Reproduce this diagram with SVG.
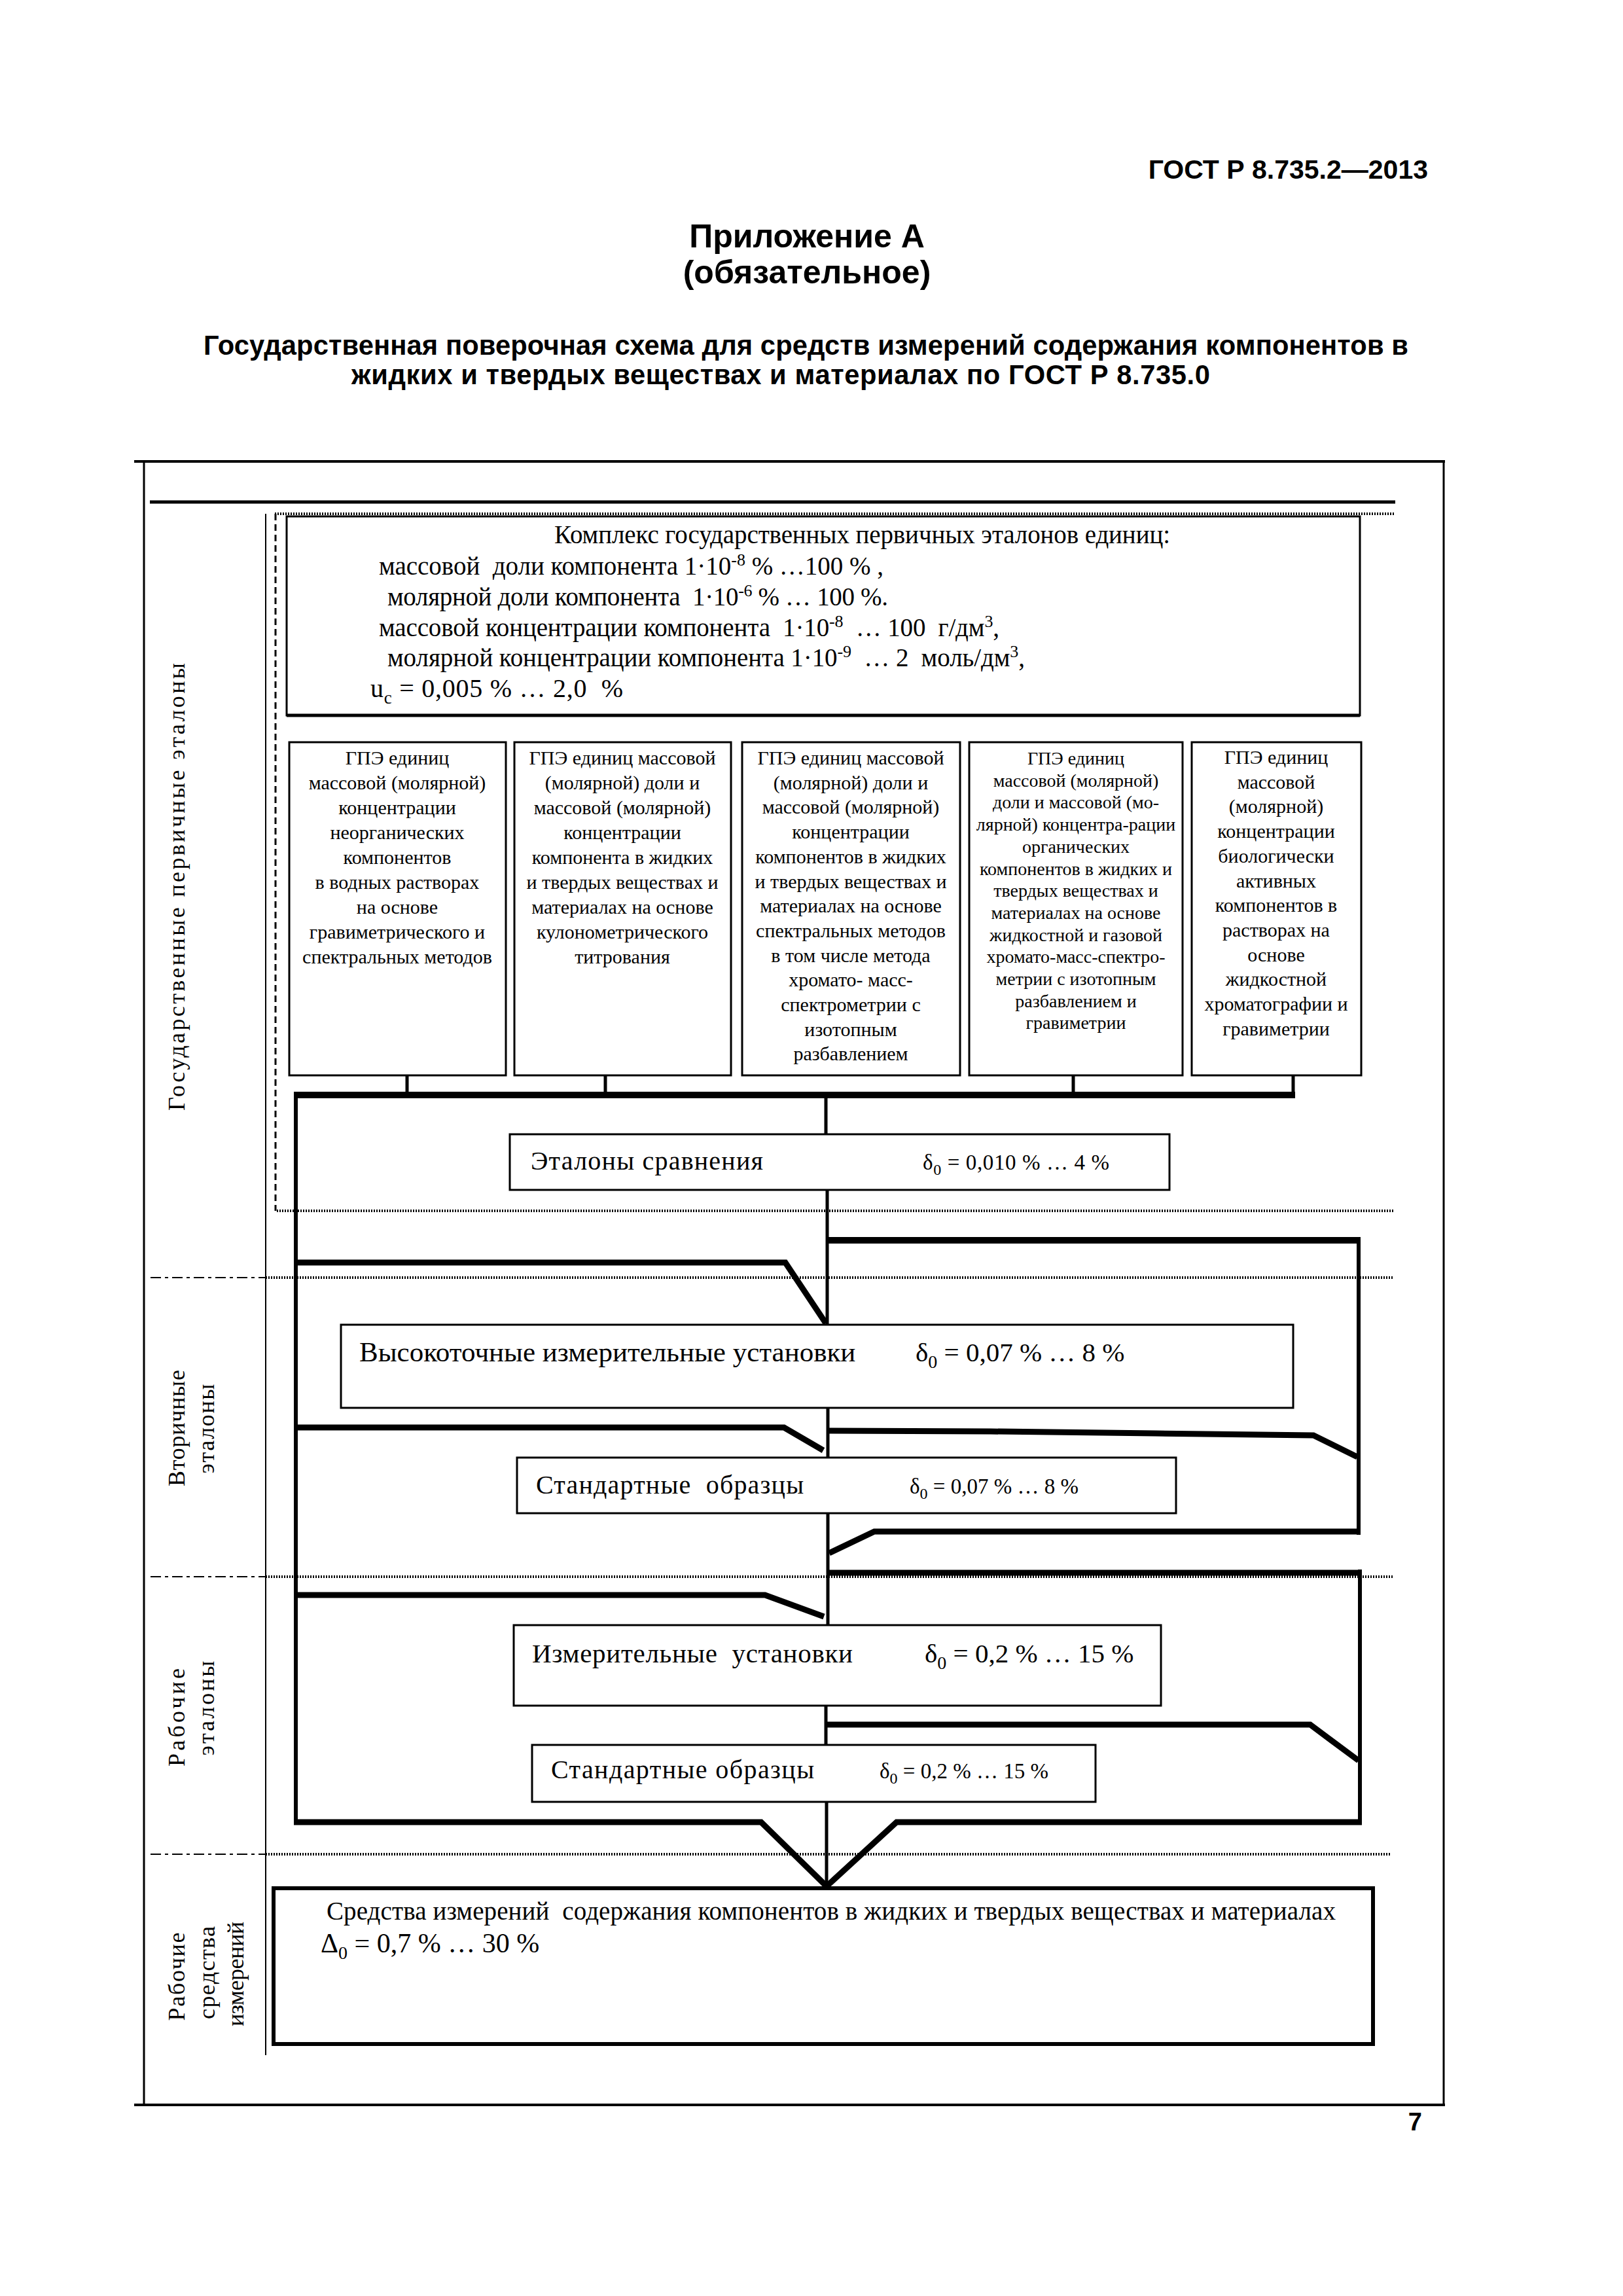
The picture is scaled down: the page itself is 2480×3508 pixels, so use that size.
<svg xmlns="http://www.w3.org/2000/svg" width="2480" height="3508" viewBox="0 0 2480 3508">
<style>
.hdr{font-family:"Liberation Sans",Arial,sans-serif;font-weight:bold;fill:#000}
.t{font-family:"Liberation Serif","Times New Roman",serif;fill:#000}
.g{font-size:30px;text-anchor:middle}
.g4{font-size:28px;text-anchor:middle}
.lbl{font-size:36px;text-anchor:middle}
.box{fill:#fff;stroke:#000;stroke-width:3}
.boxb{fill:#fff;stroke:#000;stroke-width:6}
.ln{fill:none;stroke:#000}
.thick{fill:none;stroke:#000;stroke-width:9;stroke-linejoin:miter;stroke-linecap:butt}
.vert{fill:none;stroke:#000;stroke-width:6}
.mid{fill:none;stroke:#000;stroke-width:5}
.stub{fill:none;stroke:#000;stroke-width:5}
.dot{fill:none;stroke:#000;stroke-width:4;stroke-dasharray:2 2}
.dash{fill:none;stroke:#000;stroke-width:3;stroke-dasharray:10 6}
.dashdot{fill:none;stroke:#000;stroke-width:2;stroke-dasharray:16 6 5 6}
.thin{fill:none;stroke:#000;stroke-width:2}
</style>
<rect width="2480" height="3508" fill="#fff"/>

<g id="header">
<text class="hdr" x="2182" y="273" font-size="41" text-anchor="end">ГОСТ Р 8.735.2—2013</text>
<text class="hdr" x="1233" y="378" font-size="50" text-anchor="middle">Приложение А</text>
<text class="hdr" x="1233" y="433" font-size="50" text-anchor="middle">(обязательное)</text>
<text class="hdr" x="311" y="542" font-size="41.7" textLength="1841">Государственная поверочная схема для средств измерений содержания компонентов в</text>
<text class="hdr" x="537" y="587" font-size="41.7" textLength="1312">жидких и твердых веществах и материалах по ГОСТ Р 8.735.0</text>
<text class="hdr" x="2173" y="3255" font-size="38" text-anchor="end">7</text>
</g>

<g id="frame">
<line class="ln" x1="205" y1="705" x2="2208" y2="705" stroke-width="4"/>
<line class="ln" x1="220" y1="705" x2="220" y2="3216" stroke-width="3"/>
<line class="ln" x1="2206" y1="705" x2="2206" y2="3216" stroke-width="3"/>
<line class="ln" x1="205" y1="3216" x2="2208" y2="3216" stroke-width="4"/>
<line class="ln" x1="229" y1="767" x2="2132" y2="767" stroke-width="5"/>
<line class="thin" x1="406" y1="785" x2="406" y2="3140"/>
<line class="dashdot" x1="230" y1="1952" x2="406" y2="1952"/>
<line class="dot" x1="406" y1="1952" x2="2128" y2="1952" stroke-width="3"/>
<line class="dashdot" x1="230" y1="2409" x2="406" y2="2409"/>
<line class="dot" x1="406" y1="2409" x2="2128" y2="2409" stroke-width="3"/>
<line class="dashdot" x1="230" y1="2833" x2="406" y2="2833"/>
<line class="dot" x1="406" y1="2833" x2="2124" y2="2833" stroke-width="3"/>
<line class="dot" x1="420" y1="785" x2="2132" y2="785"/>
<line class="dot" x1="423" y1="1850" x2="2131" y2="1850"/>
<line class="dash" x1="421" y1="785" x2="421" y2="1850"/>
</g>

<g id="labels">
<text class="t lbl" transform="translate(282,1355) rotate(-90)" textLength="684">Государственные первичные эталоны</text>
<text class="t lbl" transform="translate(282,2182) rotate(-90)" textLength="178">Вторичные</text>
<text class="t lbl" transform="translate(327,2183) rotate(-90)" textLength="137">эталоны</text>
<text class="t lbl" transform="translate(282,2624) rotate(-90)" textLength="150">Рабочие</text>
<text class="t lbl" transform="translate(327,2610) rotate(-90)" textLength="145">эталоны</text>
<text class="t lbl" transform="translate(282,3020) rotate(-90)" textLength="135">Рабочие</text>
<text class="t lbl" transform="translate(328,3014) rotate(-90)" textLength="142">средства</text>
<text class="t lbl" transform="translate(372,3016) rotate(-90)" textLength="160">измерений</text>
</g>

<g id="connectors">
<line class="stub" x1="622" y1="1643" x2="622" y2="1670"/>
<line class="stub" x1="925" y1="1643" x2="925" y2="1670"/>
<line class="stub" x1="1640" y1="1643" x2="1640" y2="1670"/>
<line class="stub" x1="1976" y1="1643" x2="1976" y2="1670"/>
<line class="ln" x1="449" y1="1673" x2="1979" y2="1673" stroke-width="10"/>
<line class="vert" x1="452" y1="1668" x2="452" y2="2788"/>
<line class="mid" x1="1262" y1="1673" x2="1262" y2="1733"/>
<line class="mid" x1="1264" y1="1818" x2="1264" y2="2024"/>
<line class="ln" x1="1264" y1="1895" x2="2079" y2="1895" stroke-width="10"/>
<line class="vert" x1="2076" y1="1890" x2="2076" y2="2345"/>
<polyline class="thick" points="452,1929 1200,1929 1262,2022"/>
<line class="mid" x1="1265" y1="2151" x2="1265" y2="2227"/>
<polyline class="thick" points="452,2181 1198,2181 1258,2216"/>
<polyline class="thick" points="1265,2186 1514,2187 1766,2190 2007,2193 2074,2226"/>
<line class="mid" x1="1265" y1="2312" x2="1265" y2="2483"/>
<polyline class="thick" points="2079,2340 1336,2340 1267,2373"/>
<line class="ln" x1="1265" y1="2403" x2="2081" y2="2403" stroke-width="9"/>
<line class="vert" x1="2078" y1="2398" x2="2078" y2="2788"/>
<polyline class="thick" points="452,2437 1169,2437 1259,2470"/>
<line class="mid" x1="1262" y1="2606" x2="1262" y2="2666"/>
<polyline class="thick" points="1262,2635 2002,2635 2076,2690"/>
<line class="mid" x1="1263" y1="2753" x2="1263" y2="2884"/>
<polyline class="thick" points="449,2784 1163,2784 1263,2882 1370,2784 2081,2784"/>
</g>

<g id="n_complex">
<rect class="box" x="438" y="789" width="1640" height="304"/>
<line class="ln" x1="438" y1="1093" x2="2078" y2="1093" stroke-width="5"/>
<text class="t" font-size="39" x="847" y="830" textLength="941">Комплекс государственных первичных эталонов единиц:</text>
<text class="t" font-size="39" x="579" y="878" textLength="771" xml:space="preserve">массовой  доли компонента 1·10<tspan font-size="26" dy="-14">-8</tspan><tspan dy="14"> % …100 % ,</tspan></text>
<text class="t" font-size="39" x="592" y="925" textLength="765" xml:space="preserve">молярной доли компонента  1·10<tspan font-size="26" dy="-14">-6</tspan><tspan dy="14"> % … 100 %.</tspan></text>
<text class="t" font-size="39" x="579" y="972" textLength="948" xml:space="preserve">массовой концентрации компонента  1·10<tspan font-size="26" dy="-14">-8</tspan><tspan dy="14">  … 100  г/дм</tspan><tspan font-size="26" dy="-14">3</tspan><tspan dy="14">,</tspan></text>
<text class="t" font-size="39" x="592" y="1018" textLength="974" xml:space="preserve">молярной концентрации компонента 1·10<tspan font-size="26" dy="-14">-9</tspan><tspan dy="14">  … 2  моль/дм</tspan><tspan font-size="26" dy="-14">3</tspan><tspan dy="14">,</tspan></text>
<text class="t" font-size="40" x="566" y="1065" textLength="386" xml:space="preserve">u<tspan font-size="27" dy="10">c</tspan><tspan dy="-10"> = 0,005 % … 2,0  %</tspan></text>
</g>

<g id="n_gpe1">
<rect class="box" x="442" y="1134" width="331" height="509"/>
<text class="t g" x="607" y="1168"><tspan x="607">ГПЭ единиц</tspan><tspan x="607" dy="38">массовой (молярной)</tspan><tspan x="607" dy="38">концентрации</tspan><tspan x="607" dy="38">неорганических</tspan><tspan x="607" dy="38">компонентов</tspan><tspan x="607" dy="38">в водных растворах</tspan><tspan x="607" dy="38">на основе</tspan><tspan x="607" dy="38">гравиметрического и</tspan><tspan x="607" dy="38">спектральных методов</tspan></text>
</g>

<g id="n_gpe2">
<rect class="box" x="786" y="1134" width="331" height="509"/>
<text class="t g" x="951" y="1168"><tspan x="951">ГПЭ единиц массовой</tspan><tspan x="951" dy="38">(молярной) доли и</tspan><tspan x="951" dy="38">массовой (молярной)</tspan><tspan x="951" dy="38">концентрации</tspan><tspan x="951" dy="38">компонента в жидких</tspan><tspan x="951" dy="38">и твердых веществах и</tspan><tspan x="951" dy="38">материалах на основе</tspan><tspan x="951" dy="38">кулонометрического</tspan><tspan x="951" dy="38">титрования</tspan></text>
</g>

<g id="n_gpe3">
<rect class="box" x="1134" y="1134" width="333" height="509"/>
<text class="t g" x="1300" y="1168"><tspan x="1300">ГПЭ единиц массовой</tspan><tspan x="1300" dy="37.7">(молярной) доли и</tspan><tspan x="1300" dy="37.7">массовой (молярной)</tspan><tspan x="1300" dy="37.7">концентрации</tspan><tspan x="1300" dy="37.7">компонентов в жидких</tspan><tspan x="1300" dy="37.7">и твердых веществах и</tspan><tspan x="1300" dy="37.7">материалах на основе</tspan><tspan x="1300" dy="37.7">спектральных методов</tspan><tspan x="1300" dy="37.7">в том числе метода</tspan><tspan x="1300" dy="37.7">хромато- масс-</tspan><tspan x="1300" dy="37.7">спектрометрии с</tspan><tspan x="1300" dy="37.7">изотопным</tspan><tspan x="1300" dy="37.7">разбавлением</tspan></text>
</g>

<g id="n_gpe4">
<rect class="box" x="1481" y="1134" width="326" height="509"/>
<text class="t g4" x="1644" y="1168"><tspan x="1644">ГПЭ единиц</tspan><tspan x="1644" dy="33.7">массовой (молярной)</tspan><tspan x="1644" dy="33.7">доли и массовой (мо-</tspan><tspan x="1644" dy="33.7">лярной) концентра-рации</tspan><tspan x="1644" dy="33.7">органических</tspan><tspan x="1644" dy="33.7">компонентов в жидких и</tspan><tspan x="1644" dy="33.7">твердых веществах и</tspan><tspan x="1644" dy="33.7">материалах на основе</tspan><tspan x="1644" dy="33.7">жидкостной и газовой</tspan><tspan x="1644" dy="33.7">хромато-масс-спектро-</tspan><tspan x="1644" dy="33.7">метрии с изотопным</tspan><tspan x="1644" dy="33.7">разбавлением и</tspan><tspan x="1644" dy="33.7">гравиметрии</tspan></text>
</g>

<g id="n_gpe5">
<rect class="box" x="1821" y="1134" width="259" height="509"/>
<text class="t g" x="1950" y="1167"><tspan x="1950">ГПЭ единиц</tspan><tspan x="1950" dy="37.7">массовой</tspan><tspan x="1950" dy="37.7">(молярной)</tspan><tspan x="1950" dy="37.7">концентрации</tspan><tspan x="1950" dy="37.7">биологически</tspan><tspan x="1950" dy="37.7">активных</tspan><tspan x="1950" dy="37.7">компонентов в</tspan><tspan x="1950" dy="37.7">растворах на</tspan><tspan x="1950" dy="37.7">основе</tspan><tspan x="1950" dy="37.7">жидкостной</tspan><tspan x="1950" dy="37.7">хроматографии и</tspan><tspan x="1950" dy="37.7">гравиметрии</tspan></text>
</g>

<g id="n_compare">
<rect class="box" x="779" y="1733" width="1008" height="85"/>
<text class="t" font-size="40" x="811" y="1787" textLength="355">Эталоны сравнения</text>
<text class="t" font-size="33" x="1410" y="1787" textLength="285" xml:space="preserve">δ<tspan font-size="24" dy="8">0</tspan><tspan dy="-8"> = 0,010 % … 4 %</tspan></text>
</g>

<g id="n_highprec">
<rect class="box" x="521" y="2024" width="1455" height="127"/>
<text class="t" font-size="43" x="549" y="2080">Высокоточные измерительные установки</text>
<text class="t" font-size="41" x="1399" y="2080" xml:space="preserve">δ<tspan font-size="28" dy="10">0</tspan><tspan dy="-10"> = 0,07 % … 8 %</tspan></text>
</g>

<g id="n_std2">
<rect class="box" x="790" y="2227" width="1007" height="85"/>
<text class="t" font-size="40" x="819" y="2282" textLength="409" xml:space="preserve">Стандартные  образцы</text>
<text class="t" font-size="33" x="1390" y="2282" xml:space="preserve">δ<tspan font-size="24" dy="8">0</tspan><tspan dy="-8"> = 0,07 % … 8 %</tspan></text>
</g>

<g id="n_meas">
<rect class="box" x="785" y="2483" width="989" height="123"/>
<text class="t" font-size="41" x="813" y="2540" textLength="490" xml:space="preserve">Измерительные  установки</text>
<text class="t" font-size="41" x="1413" y="2540" xml:space="preserve">δ<tspan font-size="28" dy="10">0</tspan><tspan dy="-10"> = 0,2 % … 15 %</tspan></text>
</g>

<g id="n_std3">
<rect class="box" x="813" y="2666" width="861" height="87"/>
<text class="t" font-size="40" x="842" y="2717" textLength="402">Стандартные образцы</text>
<text class="t" font-size="33" x="1344" y="2717" xml:space="preserve">δ<tspan font-size="24" dy="8">0</tspan><tspan dy="-8"> = 0,2 % … 15 %</tspan></text>
</g>

<g id="n_working">
<rect class="boxb" x="418" y="2885" width="1680" height="238"/>
<text class="t" font-size="39" x="499" y="2933" textLength="1542" xml:space="preserve">Средства измерений  содержания компонентов в жидких и твердых веществах и материалах</text>
<text class="t" font-size="42" x="490" y="2983" xml:space="preserve">Δ<tspan font-size="28" dy="10">0</tspan><tspan dy="-10"> = 0,7 % … 30 %</tspan></text>
</g>
</svg>
